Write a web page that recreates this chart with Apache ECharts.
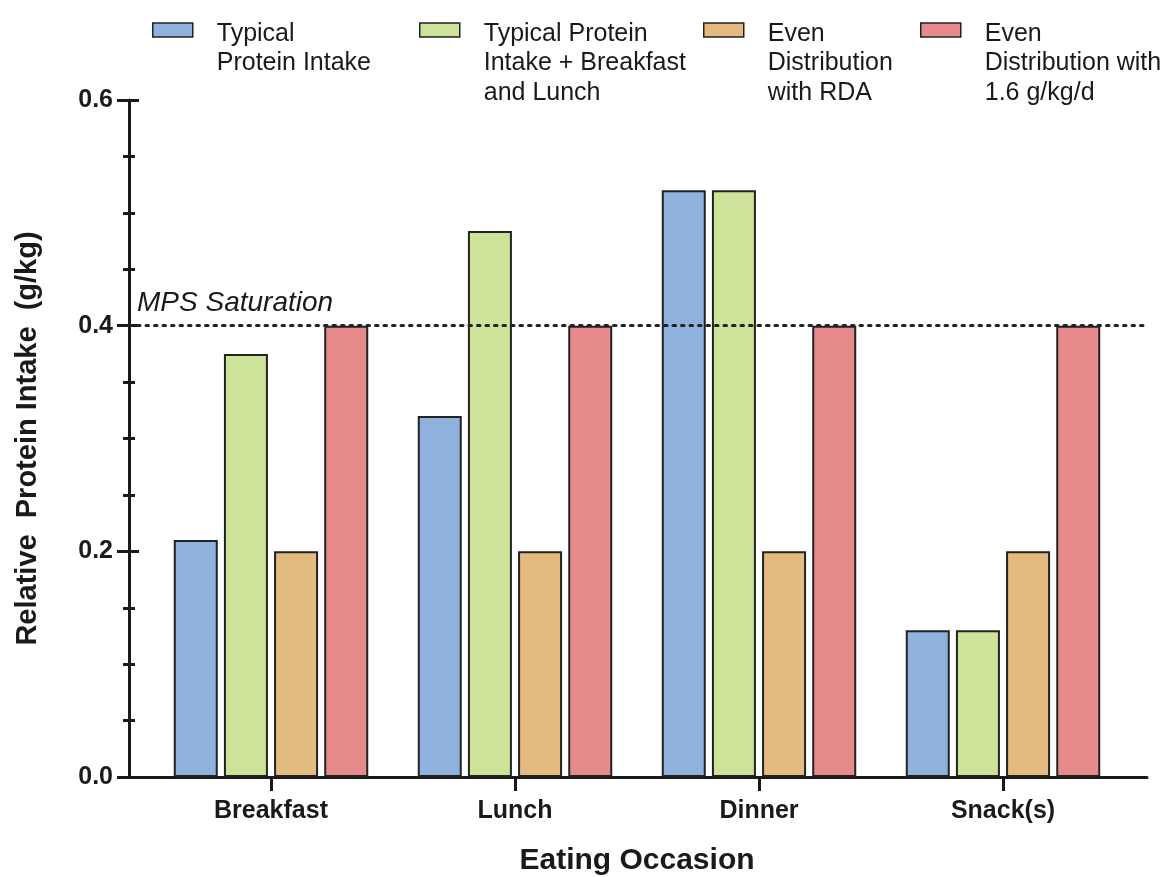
<!DOCTYPE html>
<html>
<head>
<meta charset="utf-8">
<script src="https://cdn.jsdelivr.net/npm/echarts@6/dist/echarts.min.js"></script>
<style>html,body{margin:0;padding:0;background:#fff}#c{width:1165px;height:877px}</style>
</head>
<body>
<div id="c"></div>
<script>
var categories = ['Breakfast', 'Lunch', 'Dinner', 'Snack(s)'];
var seriesNames = ['Typical\nProtein Intake', 'Typical Protein\nIntake + Breakfast\nand Lunch', 'Even\nDistribution\nwith RDA', 'Even\nDistribution with\n1.6 g/kg/d'];
var typical = [0.21, 0.32, 0.52, 0.13];
var typicalPlus = [0.375, 0.484, 0.52, 0.13];
var evenRDA = [0.2, 0.2, 0.2, 0.2];
var even16 = [0.4, 0.4, 0.4, 0.4];
var yTicks = [0, 0.2, 0.4, 0.6];
var mpsLevel = 0.4;
var colors = ['#8fb1de', '#cde39a', '#e3bb80', '#e68a8b'];
var values = [typical, typicalPlus, evenRDA, even16];
var legendLeft = [152, 419, 703, 920];
var FONT = 'Liberation Sans';
var INK = '#1a1a1a';
var LH = 29.5;
var ICON_CY = 30;
var TXT_DOWN = 4;

var chart = echarts.init(document.getElementById('c'), null, {renderer: 'canvas'});

var legends = seriesNames.map(function (n, i) {
  var lines = n.split('\n');
  var cnt = lines.length;
  var L1 = LH + 2 * TXT_DOWN / (cnt - 1);
  var H = (cnt - 1) * L1 + cnt * LH;
  var lead = '';
  for (var k = 1; k < cnt; k++) lead += '{g| }\n';
  var body = lines.map(function (s) { return '{t|' + s + '}'; }).join('\n');
  return {
    data: [n],
    left: legendLeft[i],
    top: ICON_CY - H / 2,
    padding: 0,
    orient: 'vertical',
    itemWidth: 40,
    itemHeight: 14,
    icon: 'rect',
    selectedMode: false,
    formatter: function () { return lead + body; },
    itemStyle: {borderColor: '#222', borderWidth: 1.5},
    textStyle: {
      fontFamily: FONT, fontSize: 25, color: INK, lineHeight: LH,
      padding: [0, 0, 0, 19],
      rich: {
        g: {fontFamily: FONT, fontSize: 25, lineHeight: L1, color: INK},
        t: {fontFamily: FONT, fontSize: 25, lineHeight: LH, color: INK}
      }
    }
  };
});

var series = values.map(function (v, i) {
  return {
    name: seriesNames[i],
    type: 'bar',
    xAxisIndex: 0,
    yAxisIndex: 2,
    data: v,
    barWidth: 44,
    barGap: '14%',
    itemStyle: {color: colors[i], borderColor: '#222', borderWidth: 2}
  };
});

series.push({
  type: 'line',
  xAxisIndex: 1,
  yAxisIndex: 0,
  data: [],
  silent: true,
  markLine: {
    silent: true,
    symbol: ['none', 'none'],
    lineStyle: {color: '#222', width: 3, type: [2.5, 6], cap: 'round'},
    label: {
      show: true,
      position: 'insideStartTop',
      formatter: 'MPS Saturation',
      fontFamily: FONT, fontSize: 28, fontStyle: 'italic', color: INK,
      distance: [8, 8]
    },
    data: [{yAxis: mpsLevel}]
  }
});

var option = {
  animation: false,
  backgroundColor: '#fff',
  legend: legends,
  grid: [
    {left: 149, right: 40, top: 100, bottom: 100, containLabel: false, outerBoundsMode: 'none'},
    {left: 129, right: 18, top: 100, bottom: 100, containLabel: false, outerBoundsMode: 'none'}
  ],
  xAxis: [
    {
      type: 'category', gridIndex: 0, data: categories,
      axisLine: {show: false},
      axisTick: {show: true, alignWithLabel: true, length: 14, lineStyle: {color: INK, width: 3}},
      axisLabel: {fontFamily: FONT, fontSize: 25, fontWeight: 'bold', color: INK, margin: 22},
      name: 'Eating Occasion', nameLocation: 'middle', nameGap: 69,
      nameTextStyle: {fontFamily: FONT, fontSize: 30, fontWeight: 'bold', color: INK}
    },
    {
      type: 'value', gridIndex: 1, min: 0, max: 1,
      axisLine: {show: true, lineStyle: {color: INK, width: 3}},
      axisTick: {show: false}, axisLabel: {show: false}, splitLine: {show: false}
    }
  ],
  yAxis: [
    {
      type: 'value', gridIndex: 1, position: 'left', min: yTicks[0], max: yTicks[yTicks.length - 1], interval: 0.2,
      axisLine: {show: true, lineStyle: {color: INK, width: 3}},
      axisTick: {show: true, length: 12, lineStyle: {color: INK, width: 3}},
      minorTick: {show: true, splitNumber: 4, length: 6, lineStyle: {color: INK, width: 3}},
      axisLabel: {fontFamily: FONT, fontSize: 25, fontWeight: 'bold', color: INK, margin: 16,
        formatter: function (v) { return v.toFixed(1); }},
      splitLine: {show: false},
      name: 'Relative  Protein Intake  (g/kg)', nameLocation: 'middle', nameGap: 87,
      nameTextStyle: {fontFamily: FONT, fontSize: 29, fontWeight: 'bold', color: INK}
    },
    {
      type: 'value', gridIndex: 1, position: 'left', min: yTicks[0], max: yTicks[yTicks.length - 1], interval: 0.2,
      axisLine: {show: false},
      axisTick: {show: true, inside: true, length: 10, lineStyle: {color: INK, width: 3}},
      minorTick: {show: true, splitNumber: 4, length: 6, lineStyle: {color: INK, width: 3}},
      axisLabel: {show: false}, splitLine: {show: false}
    },
    {
      type: 'value', gridIndex: 0, min: yTicks[0], max: yTicks[yTicks.length - 1], interval: 0.2,
      show: false, splitLine: {show: false}
    }
  ],
  series: series
};
chart.setOption(option);
</script>
</body>
</html>
